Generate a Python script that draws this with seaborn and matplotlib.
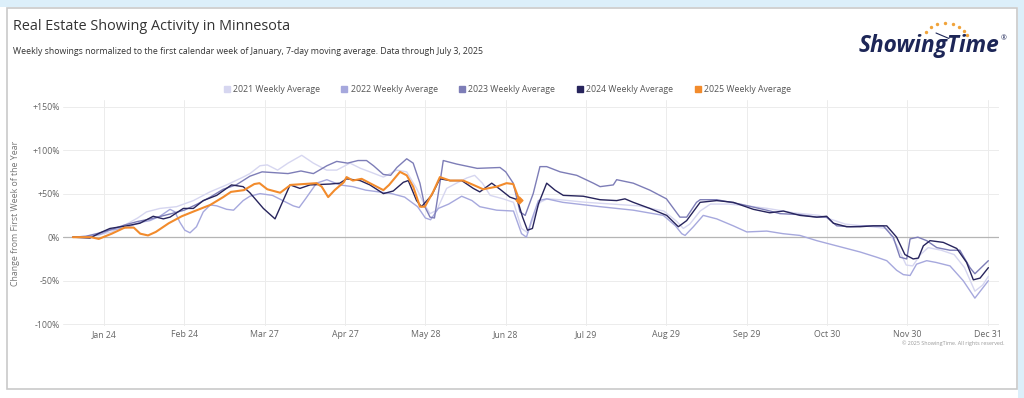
import pandas as pd
import seaborn as sns
import matplotlib.pyplot as plt
from matplotlib.lines import Line2D
from matplotlib.patches import Rectangle

# x = day of year, y = % change from first week of January
days_2021 = [12, 17, 22.5, 27, 32.7, 37, 40.4, 45.6, 52, 58.5, 64.9, 71.3, 77.7, 80.3, 84.2, 87, 91, 95,
             100.3, 104.8, 109.9, 113.8, 118.9, 123, 126.6, 131.8, 136.9, 140.8, 144.6, 147.2, 149.8,
             152.4, 156.2, 160, 164, 167, 170, 173, 178, 182, 185.1, 187.5, 190, 192.2, 195, 200, 210,
             220, 230, 240, 245, 247.5, 250, 254, 258, 265, 272, 280, 290, 300, 305, 310, 320, 326,
             330, 333.5, 336, 339, 342, 347, 352, 356, 360, 363, 365.2]
vals_2021 = [0, 1, 3, 6, 15, 22, 29, 33, 35, 42, 52, 60, 69, 73, 82, 83, 77, 85,
             94, 85, 77, 77, 85, 79, 75, 69, 77, 75, 56, 40, 27,
             31, 56, 62, 68, 71, 62, 48, 44, 40, 10, 5, 25, 40, 44, 43, 40,
             38, 36, 30, 18, 10, 15, 30, 38, 38, 36, 33, 28, 25, 20, 15, 12, 10,
             -10, -32, -33, -20, -12, -15, -20, -35, -62, -55, -45]

days_2022 = [12, 17, 22.5, 26.3, 32.7, 37.9, 41.7, 45.6, 49.5, 51.4, 53.3, 55.2, 57.2, 59.7, 62.3, 65,
             67.5, 71.3, 74, 77.7, 80.3, 84.2, 89, 93, 97, 99.3, 102, 106, 110, 115, 120, 125, 130,
             135, 140, 145, 148, 150, 153, 157, 162, 166, 169, 175.5, 182, 185.1, 187, 189, 191.6,
             194.8, 201, 215.4, 228.2, 239.8, 244.5, 246.9, 248.2, 251.4, 255.2, 260.4, 266.8, 272,
             279.7, 286, 292.5, 299, 306.7, 315.7, 322.1, 326, 329.8, 332.4, 335, 337.5, 341.4, 345,
             350.4, 355.5, 360, 365.2]
vals_2022 = [0, 0, 3, 8, 11, 17, 19, 24, 32, 29, 17, 8, 5, 12, 29, 37,
             36, 32, 31, 42, 47, 50, 48, 42, 36, 34, 45, 62, 66, 60, 58, 54, 52,
             50, 46, 35, 22, 20, 33, 38, 47, 42, 35, 31, 30, 4, 0, 20, 42,
             44, 40, 35, 31, 25, 13, 4, 2, 12, 25, 21, 13, 6,
             7, 4, 2, -4, -10, -17, -23, -27, -38, -43, -44, -31, -27, -29,
             -33, -50, -70, -50]

days_2023 = [12, 17, 22.5, 27, 32, 37, 42, 46, 50, 55, 60, 65, 70, 75, 80.3, 85, 90, 95, 100, 104.8,
             110, 113.8, 118, 122, 125.3, 128, 131.8, 134.6, 137, 140.8, 143.3, 145.9, 147.8, 149.8,
             151.5, 153.5, 154.9, 160, 168, 176.8, 179, 181.9, 184.5, 186.5, 189.6, 192.2, 194.8,
             200, 206.4, 212.8, 215.4, 220.5, 221.8, 228.2, 234.6, 241, 246.2, 248.8, 252.6, 254,
             260.4, 269.4, 279.7, 284.8, 292, 299, 302.8, 306.7, 312, 318, 324.6, 328.5, 331.1,
             333.7, 335, 338, 341.4, 345.3, 350.4, 354.2, 358.1, 360, 365.2]
vals_2023 = [0, 1, 5, 9, 14, 18, 21, 24, 27, 31, 38, 46, 55, 60, 70, 75, 74, 73, 76, 73,
             82, 87, 85, 88, 88, 82, 72, 71, 80, 90, 85, 62, 35, 23,
             22, 60, 88, 84, 79, 80, 75, 62, 29, 25, 50, 81, 81,
             75, 71, 62, 58, 60, 66, 62, 54, 44, 23, 23, 40, 43,
             43, 38, 31, 27, 26, 23, 23, 13, 12, 13, 13, 0, -23,
             -25, -2, 0, -4, -12, -15, -15, -35, -42, -27]

days_2024 = [12, 18.6, 22.5, 26.3, 32.7, 37.9, 43, 46.9, 49.5, 54.6, 58.5, 62.3, 67.5, 73.2, 77.7, 80.3,
             85.5, 90, 95.8, 99.6, 103.5, 111.2, 115, 117.6, 122.8, 126.6, 131.8, 135.6, 139.5, 141.4,
             144.6, 146.5, 150.4, 153.6, 157.5, 162, 166.5, 169, 173.6, 176.8, 180.6, 183.5, 185.5,
             187.4, 189.3, 191.6, 194.8, 198, 201.2, 208.9, 215.4, 221.8, 225, 228.2, 234.6, 241.1,
             245.6, 248.8, 254, 260.4, 266.8, 274.5, 280.9, 286.1, 292.5, 299, 302.8, 305.4, 310.5,
             315.7, 320.8, 326, 329.8, 333, 336.2, 338.2, 340.1, 342.7, 347.8, 353, 356.8, 359.4,
             362, 365.2]
vals_2024 = [0, -1, 5, 10, 13, 16, 24, 21, 23, 33, 33, 42, 48, 60, 58, 51,
             33, 21, 60, 56, 60, 61, 62, 67, 65, 60, 50, 53, 63, 65,
             42, 35, 48, 67, 65, 65, 56, 52, 62, 55, 46, 43, 23,
             8, 10, 38, 62, 54, 48, 47, 43, 42, 44, 40, 33, 25,
             12, 19, 40, 42, 40, 32, 28, 30, 25, 23, 24, 16, 12,
             12, 13, 13, 0, -20, -25, -24, -10, -4, -6, -13, -29, -49,
             -47, -35]

days_2025 = [12, 19, 22, 27, 32, 35.5, 38, 41, 44, 49, 54, 59, 65, 70, 73, 78, 82, 84, 87, 92, 96,
             106, 108, 110.5, 113, 116.5, 117.6, 120, 123.4, 126.6, 131.8, 134, 138.2, 140.8, 143.3,
             145.9, 147.8, 151, 153.6, 157.5, 162.6, 166.5, 170.3, 175.5, 179.3, 181.9, 184.2]
vals_2025 = [0, 0, -2, 4, 11, 11, 4, 2, 6, 16, 24, 30, 37, 46, 52, 54, 61, 62, 55, 51, 60,
             62, 58, 46, 54, 63, 69, 65, 67, 62, 54, 60, 75, 71, 58,
             35, 35, 52, 69, 65, 65, 60, 55, 58, 62, 61, 43]

years = ["2021", "2022", "2023", "2024", "2025"]
colors = {"2021": "#d6d6f0", "2022": "#a6a8dd", "2023": "#7d7db7",
          "2024": "#27245c", "2025": "#f28b2c"}
tick_days = [24, 55, 86, 117, 148, 179, 210, 241, 272, 303, 334, 365]
tick_labels = ["Jan 24", "Feb 24", "Mar 27", "Apr 27", "May 28", "Jun 28",
               "Jul 29", "Aug 29", "Sep 29", "Oct 30", "Nov 30", "Dec 31"]
y_ticks = [-100, -50, 0, 50, 100, 150]
y_labels = ["-100%", "-50%", "0%", "+50%", "+100%", "+150%"]

series = {"2021": (days_2021, vals_2021), "2022": (days_2022, vals_2022),
          "2023": (days_2023, vals_2023), "2024": (days_2024, vals_2024),
          "2025": (days_2025, vals_2025)}
frames = []
for yr in years:
    d, v = series[yr]
    frames.append(pd.DataFrame({"day": d, "change": v, "year": yr}))
df = pd.concat(frames, ignore_index=True)

sns.set_theme(style="white")
plt.rcParams["font.family"] = ["Open Sans", "DejaVu Sans"]

W, H = 1024, 398
fig = plt.figure(figsize=(W / 100, H / 100), dpi=100)
fig.patch.set_facecolor("white")

# page decorations in pixel coordinates
deco = fig.add_axes([0, 0, 1, 1], zorder=0)
deco.set_xlim(0, W)
deco.set_ylim(H, 0)
deco.axis("off")
deco.add_patch(Rectangle((0, 0), W, 7, color="#dcefFA", lw=0))
deco.add_patch(Rectangle((1018, 0), 6, H, color="#dcefFA", lw=0))
deco.add_patch(Rectangle((7, 7.5), 1010, 381.5, fill=False, ec="#c9c9c9", lw=1.2))

deco.text(13, 26, "Real Estate Showing Activity in Minnesota", fontsize=10.4,
          color="#333333", va="center", ha="left")
deco.text(13, 52, "Weekly showings normalized to the first calendar week of January, "
          "7-day moving average. Data through July 3, 2025", fontsize=6.3,
          color="#333333", va="center", ha="left")
deco.text(1004, 343, "\u00a9 2025 ShowingTime. All rights reserved.", fontsize=3.9,
          color="#999999", va="center", ha="right")

# logo
deco.text(929, 46, "ShowingTime", fontsize=16.3, fontweight="bold", style="italic",
          color="#1d2657", va="center", ha="center")
deco.text(1004, 39, "\u00ae", fontsize=5, color="#1d2657", va="center", ha="center")
dot_x = [926, 931, 937, 945, 953, 959, 964, 967]
dot_y = [32, 27, 24, 23, 24, 27, 31, 35]
deco.scatter(dot_x, dot_y, s=6, color="#f0a33a", lw=0)
deco.plot([936, 949], [33, 38.5], color="#1d2657", lw=0.8)

# main chart
ax = fig.add_axes([63 / W, 1 - 326 / H, 936 / W, 226 / H], zorder=1)
ax.set_facecolor("none")
for yr in years:
    sub = df[df["year"] == yr]
    lw = 1.5 if yr == "2025" else 1.0
    sns.lineplot(data=sub, x="day", y="change", color=colors[yr], lw=lw,
                 estimator=None, sort=True, ax=ax, legend=False, zorder=3)
last = df[df["year"] == "2025"].iloc[-1]
ax.scatter([last["day"]], [last["change"]], s=12, marker="D", color=colors["2025"], zorder=4)

ax.set_xlim(8.2, 369.3)
ax.set_ylim(-102, 157.5)
ax.set_xticks(tick_days)
ax.set_xticklabels(tick_labels)
ax.set_yticks(y_ticks)
ax.set_yticklabels(y_labels)
ax.tick_params(axis="both", length=0, labelsize=6.3, labelcolor="#666666")
ax.tick_params(axis="x", pad=3)
ax.tick_params(axis="y", pad=2)
ax.grid(True, color="#ececec", lw=0.7)
ax.axhline(0, color="#b5b5b5", lw=0.9, zorder=2)
for s in ax.spines.values():
    s.set_visible(False)
ax.set_xlabel("")
ax.set_ylabel("Change from First Week of the Year", fontsize=6.3, color="#777777")
ax.yaxis.set_label_coords(-0.046, 0.5)

handles = [Line2D([], [], ls="", marker="s", markersize=5, color=colors[yr]) for yr in years]
labels = [f"{yr} Weekly Average" for yr in years]
fig.legend(handles, labels, loc="center", bbox_to_anchor=(507 / W, 1 - 90 / H), ncol=5,
           frameon=False, fontsize=6.3, labelcolor="#555555", handletextpad=0.3,
           columnspacing=2.4, handlelength=0.8)

plt.savefig("out.png", dpi=100)
